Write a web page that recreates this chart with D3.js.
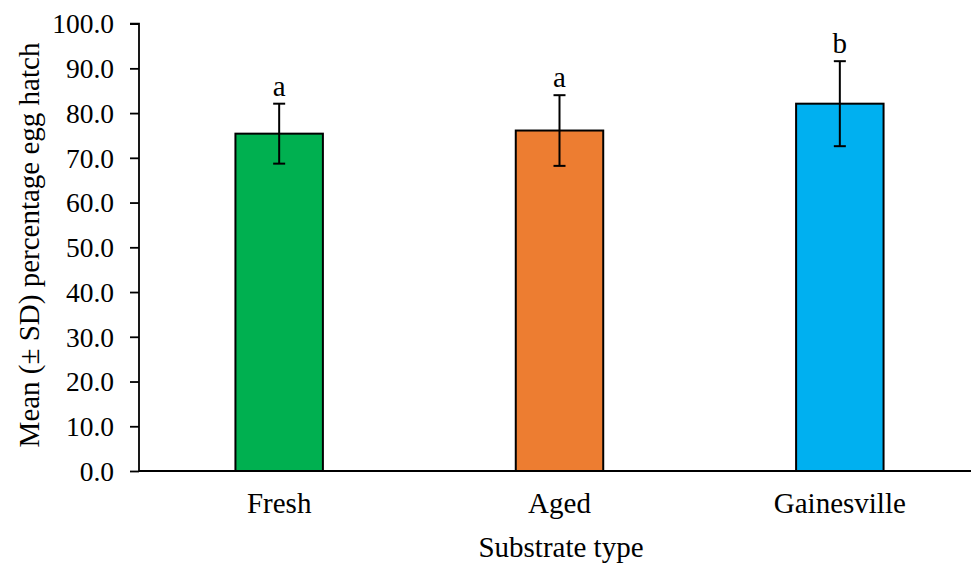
<!DOCTYPE html>
<html>
<head>
<meta charset="utf-8">
<script src="https://cdn.jsdelivr.net/npm/d3@7"></script>
<style>
  html, body { margin: 0; padding: 0; background: #fff; }
  svg { display: block; font-family: "Liberation Serif", "Times New Roman", serif; }
</style>
</head>
<body>
<svg id="chart" width="971" height="565"></svg>
<script>
// Mean percentage egg hatch by substrate, with standard deviations
const categories = ["Fresh", "Aged", "Gainesville"];
const means = [75.4, 76.1, 82.1];
const sds = [6.7, 7.9, 9.5];
const groupLetters = ["a", "a", "b"];
const colors = ["#00B050", "#ED7D31", "#00B0F0"];
const yTicks = [0, 10, 20, 30, 40, 50, 60, 70, 80, 90, 100];

const serif = "Liberation Serif, Times New Roman, serif";
const svg = d3.select("#chart");
const plotLeft = 139, plotRight = 980, plotTop = 23.6, plotBottom = 471;

const x = d3.scaleBand().domain(categories).range([plotLeft, plotRight]).padding(0);
const y = d3.scaleLinear().domain([0, 100]).range([plotBottom, plotTop]);
const barW = x.bandwidth() * 0.312;

// Y axis
const yAxis = svg.append("g")
  .attr("transform", `translate(${plotLeft},0)`)
  .call(d3.axisLeft(y).tickValues(yTicks).tickFormat(d3.format(".1f")).tickSize(9).tickPadding(16));
yAxis.attr("font-family", null).attr("font-size", null);
yAxis.select(".domain").attr("stroke", "#000").attr("stroke-width", 1.8).attr("d", `M-9,${y(100)}H0V${plotBottom}`);
yAxis.selectAll(".tick line").attr("stroke", "#000").attr("stroke-width", 1.8);
yAxis.selectAll(".tick text")
  .attr("fill", "#000")
  .style("font-family", serif)
  .style("font-size", "27.5px")
  .attr("dy", "0.34em");

// Bars
svg.append("g").selectAll("rect")
  .data(categories)
  .join("rect")
  .attr("x", d => x(d) + x.bandwidth() / 2 - barW / 2)
  .attr("y", (d, i) => y(means[i]))
  .attr("width", barW)
  .attr("height", (d, i) => y(0) - y(means[i]))
  .attr("fill", (d, i) => colors[i])
  .attr("stroke", "#000")
  .attr("stroke-width", 2);

// Error bars
const err = svg.append("g").attr("stroke", "#000").attr("stroke-width", 2);
categories.forEach((c, i) => {
  const cx = x(c) + x.bandwidth() / 2;
  const hi = y(means[i] + sds[i]), lo = y(means[i] - sds[i]);
  err.append("line").attr("x1", cx).attr("x2", cx).attr("y1", hi).attr("y2", lo);
  err.append("line").attr("x1", cx - 6).attr("x2", cx + 6).attr("y1", hi).attr("y2", hi);
  err.append("line").attr("x1", cx - 6).attr("x2", cx + 6).attr("y1", lo).attr("y2", lo);
});

// Significance letters
svg.append("g").selectAll("text")
  .data(categories)
  .join("text")
  .attr("x", d => x(d) + x.bandwidth() / 2)
  .attr("y", (d, i) => y(means[i] + sds[i]) - 8)
  .attr("text-anchor", "middle")
  .style("font-size", "29px")
  .text((d, i) => groupLetters[i]);

// X axis line
svg.append("line")
  .attr("x1", plotLeft).attr("x2", 971)
  .attr("y1", plotBottom).attr("y2", plotBottom)
  .attr("stroke", "#000").attr("stroke-width", 1.8);

// Category labels
svg.append("g").selectAll("text")
  .data(categories)
  .join("text")
  .attr("x", d => x(d) + x.bandwidth() / 2)
  .attr("y", 513)
  .attr("text-anchor", "middle")
  .style("font-size", "29px")
  .text(d => d);

// Axis titles
svg.append("text")
  .attr("x", 561).attr("y", 557)
  .attr("text-anchor", "middle")
  .style("font-size", "29px")
  .text("Substrate type");

svg.append("text")
  .attr("transform", `translate(39,245) rotate(-90)`)
  .attr("text-anchor", "middle")
  .style("font-size", "29px")
  .text("Mean (± SD) percentage egg hatch");
</script>
</body>
</html>
